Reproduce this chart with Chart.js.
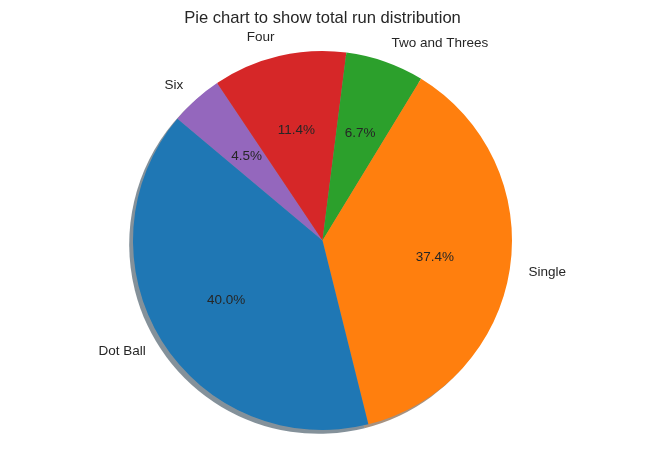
<!DOCTYPE html>
<html>
<head>
<meta charset="utf-8">
<script src="https://cdn.jsdelivr.net/npm/chart.js@4"></script>
<style>
  html, body { margin: 0; padding: 0; background: #ffffff; }
  canvas { display: block; }
</style>
</head>
<body>
<canvas id="pieChart" width="647" height="467"></canvas>
<script>
// slices in matplotlib order (counter-clockwise from startangle 140)
const categories = ['Dot Ball', 'Single', 'Two and Threes', 'Four', 'Six'];
const runShare = [40.0, 37.4, 6.7, 11.4, 4.5];
const sliceColors = ['#1f77b4', '#ff7f0e', '#2ca02c', '#d62728', '#9467bd'];
const chartTitle = 'Pie chart to show total run distribution';

const textColor = '#262626';
const fontFamily = '"Liberation Sans", Arial, sans-serif';

// Chart.js draws clockwise, so reverse to get the same look
const labelsCw = categories.slice().reverse();
const valuesCw = runShare.slice().reverse();
const colorsCw = sliceColors.slice().reverse();

function shadowOf(hex) {
    const r = parseInt(hex.slice(1, 3), 16);
    const g = parseInt(hex.slice(3, 5), 16);
    const b = parseInt(hex.slice(5, 7), 16);
    return `rgba(${Math.round(r * 0.3)}, ${Math.round(g * 0.3)}, ${Math.round(b * 0.3)}, 0.5)`;
}

// grey shadow under the wedges, shifted left and down
const shadowPlugin = {
    id: 'wedgeShadow',
    beforeDatasetsDraw(chart) {
        const ctx = chart.ctx;
        const meta = chart.getDatasetMeta(0);
        meta.data.forEach((arc, i) => {
            const p = arc.getProps(['x', 'y', 'startAngle', 'endAngle', 'outerRadius']);
            const off = p.outerRadius * 0.02;
            const x = p.x - off, y = p.y + off;
            ctx.save();
            ctx.fillStyle = shadowOf(colorsCw[i]);
            ctx.beginPath();
            ctx.moveTo(x, y);
            ctx.arc(x, y, p.outerRadius, p.startAngle, p.endAngle);
            ctx.closePath();
            ctx.fill();
            ctx.restore();
        });
    }
};

// category names at 1.1 r, percentages at 0.6 r, plus the title
const textPlugin = {
    id: 'pieText',
    afterDatasetsDraw(chart) {
        const ctx = chart.ctx;
        const meta = chart.getDatasetMeta(0);
        ctx.save();
        ctx.fillStyle = textColor;
        ctx.textBaseline = 'middle';
        meta.data.forEach((arc, i) => {
            const p = arc.getProps(['x', 'y', 'startAngle', 'endAngle', 'outerRadius']);
            const mid = (p.startAngle + p.endAngle) / 2;
            const cos = Math.cos(mid), sin = Math.sin(mid);

            ctx.font = `13.5px ${fontFamily}`;
            ctx.textAlign = cos > 0 ? 'left' : 'right';
            ctx.fillText(labelsCw[i], p.x + cos * p.outerRadius * 1.1, p.y + sin * p.outerRadius * 1.1);

            ctx.textAlign = 'center';
            ctx.fillText(valuesCw[i].toFixed(1) + '%', p.x + cos * p.outerRadius * 0.6, p.y + sin * p.outerRadius * 0.6);
        });

        ctx.font = `16.6px ${fontFamily}`;
        ctx.textAlign = 'center';
        ctx.textBaseline = 'alphabetic';
        ctx.fillText(chartTitle, (chart.chartArea.left + chart.chartArea.right) / 2, 23);
        ctx.restore();
    }
};

new Chart(document.getElementById('pieChart'), {
    type: 'pie',
    data: {
        labels: labelsCw,
        datasets: [{
            data: valuesCw,
            backgroundColor: colorsCw,
            borderWidth: 0,
            hoverOffset: 0
        }]
    },
    options: {
        responsive: false,
        animation: false,
        rotation: -50,
        layout: {
            padding: { top: 51, bottom: 37, left: 0, right: 2 }
        },
        plugins: {
            legend: { display: false },
            tooltip: { enabled: false },
            title: { display: false }
        }
    },
    plugins: [shadowPlugin, textPlugin]
});
</script>
</body>
</html>
